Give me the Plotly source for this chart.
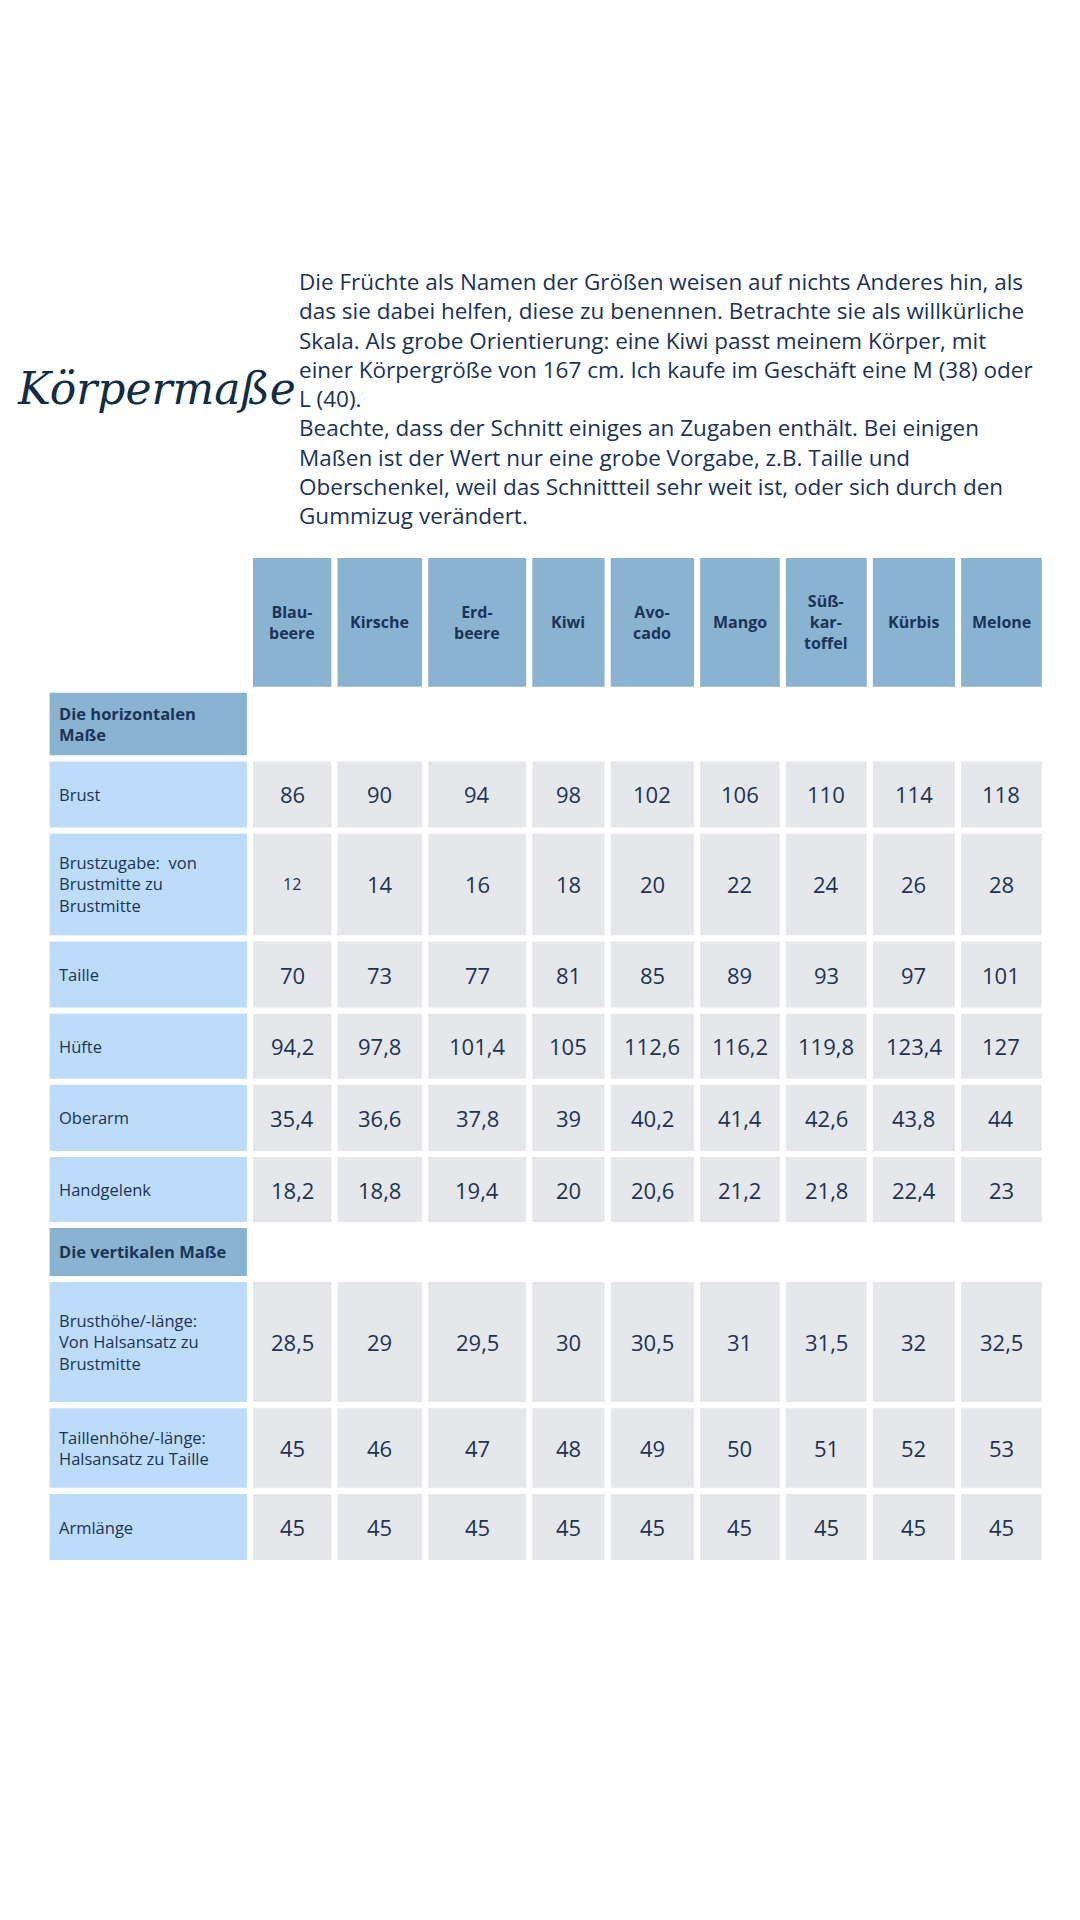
import plotly.graph_objects as go

S = 1.225  # reference measured at reduced scale
OFF = -7   # shift to line up with the reference

sizes = ["Blau-<br>beere", "Kirsche", "Erd-<br>beere", "Kiwi", "Avo-<br>cado", "Mango", "Süß-<br>kar-<br>toffel", "Kürbis", "Melone"]
col_edges = [(207, 271), (276, 345), (350, 430), (435, 494), (499, 567), (572, 637), (642, 708), (713, 780), (785, 851)]
label_col = (41, 202)

# (label, values or None for a section header, top, bottom)
rows = [
    ("<b>Die horizontalen<br>Maße</b>", None, 566, 617),
    ("Brust", ["86", "90", "94", "98", "102", "106", "110", "114", "118"], 622, 676),
    ("Brustzugabe:  von<br>Brustmitte zu<br>Brustmitte", ["12", "14", "16", "18", "20", "22", "24", "26", "28"], 681, 764),
    ("Taille", ["70", "73", "77", "81", "85", "89", "93", "97", "101"], 769, 823),
    ("Hüfte", ["94,2", "97,8", "101,4", "105", "112,6", "116,2", "119,8", "123,4", "127"], 828, 881),
    ("Oberarm", ["35,4", "36,6", "37,8", "39", "40,2", "41,4", "42,6", "43,8", "44"], 886, 940),
    ("Handgelenk", ["18,2", "18,8", "19,4", "20", "20,6", "21,2", "21,8", "22,4", "23"], 945, 998),
    ("<b>Die vertikalen Maße</b>", None, 1003, 1042),
    ("Brusthöhe/-länge:<br>Von Halsansatz zu<br>Brustmitte", ["28,5", "29", "29,5", "30", "30,5", "31", "31,5", "32", "32,5"], 1047, 1145),
    ("Taillenhöhe/-länge:<br>Halsansatz zu Taille", ["45", "46", "47", "48", "49", "50", "51", "52", "53"], 1150, 1215),
    ("Armlänge", ["45", "45", "45", "45", "45", "45", "45", "45", "45"], 1220, 1274),
]
header_top, header_bottom = 456, 561

intro = ("Die Früchte als Namen der Größen weisen auf nichts Anderes hin, als<br>"
         "das sie dabei helfen, diese zu benennen. Betrachte sie als willkürliche<br>"
         "Skala. Als grobe Orientierung: eine Kiwi passt meinem Körper, mit<br>"
         "einer Körpergröße von 167 cm. Ich kaufe im Geschäft eine M (38) oder<br>"
         "L (40).<br>"
         "Beachte, dass der Schnitt einiges an Zugaben enthält. Bei einigen<br>"
         "Maßen ist der Wert nur eine grobe Vorgabe, z.B. Taille und<br>"
         "Oberschenkel, weil das Schnittteil sehr weit ist, oder sich durch den<br>"
         "Gummizug verändert.")

NAVY = "#1b3358"
HEAD = "#8ab3d1"
LABEL = "#bddcfb"
CELL = "#e5e7ea"
FONT = "Open Sans"


def px(v):
    return (v + OFF) * S


shapes, ann = [], []

def box(x0, x1, y0, y1, color):
    shapes.append(dict(type="rect", xref="x", yref="y", x0=px(x0), x1=px(x1), y0=px(y0), y1=px(y1),
                       fillcolor=color, line=dict(width=0), layer="below"))

def text(x, y, t, size, xanchor="center"):
    ann.append(dict(x=px(x), y=px(y), xref="x", yref="y", text=t, showarrow=False, xanchor=xanchor,
                    yanchor="middle", align="left" if xanchor == "left" else "center",
                    font=dict(family=FONT, size=size, color=NAVY)))

for (x0, x1), name in zip(col_edges, sizes):
    box(x0, x1, header_top, header_bottom, HEAD)
    text((x0 + x1) / 2, (header_top + header_bottom) / 2, "<b>" + name + "</b>", 16)

for label, vals, y0, y1 in rows:
    box(label_col[0], label_col[1], y0, y1, HEAD if vals is None else LABEL)
    text(label_col[0] + 6, (y0 + y1) / 2, label, 16.5, xanchor="left")
    if vals is None:
        continue
    for (x0, x1), v in zip(col_edges, vals):
        box(x0, x1, y0, y1, CELL)
        text((x0 + x1) / 2, (y0 + y1) / 2, v, 16 if v == "12" else 22)

ann.append(dict(x=px(243), y=px(216), xref="x", yref="y", text=intro, showarrow=False, xanchor="left",
                yanchor="top", align="left",
                font=dict(family=FONT, size=22.5, color=NAVY)))
ann.append(dict(x=px(128), y=px(318), xref="x", yref="y", text="<i>Körpermaße</i>", showarrow=False,
                xanchor="center", yanchor="middle",
                font=dict(family="DejaVu Serif", size=44, color="#0f2d44")))

fig = go.Figure()
fig.update_layout(
    width=1080, height=1920, margin=dict(l=0, r=0, t=0, b=0),
    paper_bgcolor="white", plot_bgcolor="white",
    xaxis=dict(range=[0, 1080], visible=False, fixedrange=True),
    yaxis=dict(range=[1920, 0], visible=False, fixedrange=True),
    shapes=shapes, annotations=ann, showlegend=False,
)
fig.write_html("out.html")
